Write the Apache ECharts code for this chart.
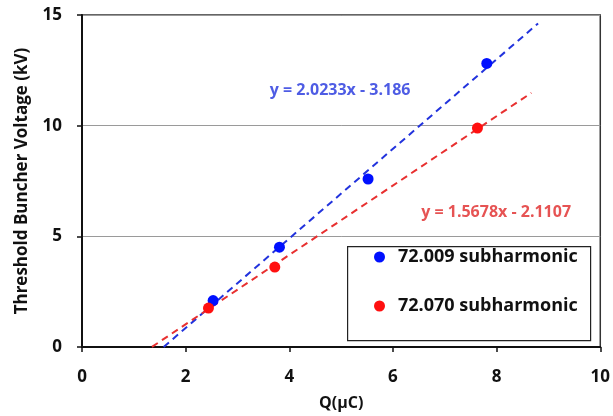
<!DOCTYPE html>
<html>
<head>
<meta charset="utf-8">
<script src="https://cdn.jsdelivr.net/npm/echarts@6/dist/echarts.min.js"></script>
<style>html,body{margin:0;padding:0;background:#fff}#c{width:613px;height:416px}</style>
</head>
<body>
<div id="c"></div>
<script>
// Data
const blueName = '72.009 subharmonic';
const redName = '72.070 subharmonic';
const blueX = [2.53, 3.81, 5.52, 7.81];
const blueY = [2.1, 4.51, 7.59, 12.81];
const redX = [2.44, 3.72, 7.63];
const redY = [1.76, 3.61, 9.89];
// Trend lines (from printed equations)
const blueFit = [2.0233, -3.186];   // slope, intercept
const redFit = [1.5678, -2.1107];
const blueFitRange = [1.575, 8.8];
const redFitRange = [1.35, 8.67];
const blueEq = 'y = 2.0233x - 3.186';
const redEq = 'y = 1.5678x - 2.1107';
const blueEqAt = [4.98, 11.58];
const redEqAt = [7.99, 6.09];
const xTicks = [0, 2, 4, 6, 8, 10];
const yTicks = [0, 5, 10, 15];

const pts = (xs, ys) => xs.map((x, i) => [x, ys[i]]);
const fit = (f, r) => r.map(x => [x, f[0] * x + f[1]]);

const FONT = 'Open Sans';
const chart = echarts.init(document.getElementById('c'));
chart.setOption({
  animation: false,
  backgroundColor: '#fff',
  grid: { left: 82, right: 12, top: 15, bottom: 68, show: true, borderColor: '#333', borderWidth: 1.5 },
  xAxis: {
    type: 'value', min: xTicks[0], max: xTicks[xTicks.length - 1], interval: 2,
    name: 'Q(μC)', nameLocation: 'middle', nameGap: 48,
    nameTextStyle: { fontFamily: FONT, fontWeight: 'bold', fontSize: 16, color: '#111' },
    axisLine: { lineStyle: { color: '#111', width: 2 } },
    axisTick: { show: true, length: 5, lineStyle: { color: '#111', width: 1.5 } },
    axisLabel: { fontFamily: FONT, fontWeight: 'bold', fontSize: 17, color: '#111', margin: 22 },
    splitLine: { show: false }
  },
  yAxis: {
    type: 'value', min: yTicks[0], max: yTicks[yTicks.length - 1], interval: 5,
    name: 'Threshold Buncher Voltage (kV)', nameLocation: 'middle', nameGap: 51,
    nameTextStyle: { fontFamily: FONT, fontWeight: 'bold', fontSize: 17, color: '#111' },
    axisLine: { lineStyle: { color: '#111', width: 2 } },
    axisTick: { show: true, length: 5, lineStyle: { color: '#111', width: 1.5 } },
    axisLabel: { fontFamily: FONT, fontWeight: 'bold', fontSize: 17, color: '#111', margin: 20 },
    splitLine: { show: true, lineStyle: { color: '#9a9a9a', width: 1 } }
  },
  legend: {
    orient: 'vertical', left: 374, top: 248, padding: 0, itemWidth: 11, itemHeight: 11, itemGap: 31,
    itemStyle: { borderWidth: 0 },
    textStyle: { fontFamily: FONT, fontWeight: 'bold', fontSize: 18, color: '#111', padding: [0, 0, 0, 8] },
    data: [{ name: blueName, icon: 'circle' }, { name: redName, icon: 'circle' }]
  },
  graphic: [{
    type: 'rect', left: 347, top: 246, shape: { width: 243, height: 94 },
    style: { fill: '#fff', stroke: '#222', lineWidth: 1.2 }, z: 1
  }],
  series: [
    { name: 'blueFit', type: 'line', data: fit(blueFit, blueFitRange), symbol: 'none', silent: true,
      lineStyle: { color: '#2233dd', width: 2, type: [7, 5] }, z: 2 },
    { name: 'redFit', type: 'line', data: fit(redFit, redFitRange), symbol: 'none', silent: true,
      lineStyle: { color: '#e83030', width: 2, type: [7, 5] }, z: 2 },
    { name: blueName, type: 'scatter', data: pts(blueX, blueY), symbolSize: 11,
      itemStyle: { color: '#0010ff', opacity: 1 }, z: 3 },
    { name: redName, type: 'scatter', data: pts(redX, redY), symbolSize: 11,
      itemStyle: { color: '#ff1010', opacity: 1 }, z: 3 },
    { name: 'eqBlue', type: 'scatter', data: [blueEqAt], symbolSize: 0, silent: true,
      label: { show: true, position: 'inside', formatter: blueEq, fontFamily: FONT, fontWeight: 'bold', fontSize: 16, color: '#2233dd' } },
    { name: 'eqRed', type: 'scatter', data: [redEqAt], symbolSize: 0, silent: true,
      label: { show: true, position: 'inside', formatter: redEq, fontFamily: FONT, fontWeight: 'bold', fontSize: 16, color: '#e02828' } }
  ]
});
</script>
</body>
</html>
